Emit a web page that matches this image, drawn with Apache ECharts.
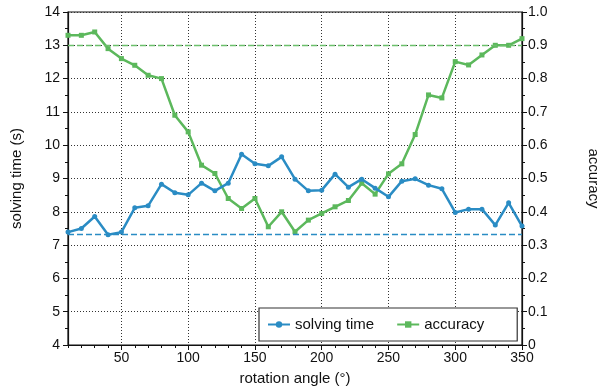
<!DOCTYPE html>
<html><head><meta charset="utf-8">
<script src="https://cdn.jsdelivr.net/npm/echarts@6/dist/echarts.min.js"></script>
<style>html,body{margin:0;padding:0;background:#fff}#c{width:605px;height:387px}</style>
</head><body><div id="c"></div>
<script>
const angles = [10,20,30,40,50,60,70,80,90,100,110,120,130,140,150,160,170,180,190,200,210,220,230,240,250,260,270,280,290,300,310,320,330,340,350];
const solvingTime = [7.39,7.50,7.86,7.31,7.39,8.12,8.18,8.83,8.57,8.51,8.86,8.63,8.86,9.73,9.44,9.38,9.65,8.98,8.63,8.65,9.13,8.74,8.98,8.71,8.45,8.92,8.99,8.80,8.69,7.98,8.08,8.08,7.60,8.27,7.57];
const accuracy = [0.93,0.93,0.94,0.89,0.86,0.84,0.81,0.80,0.69,0.64,0.54,0.515,0.44,0.41,0.44,0.355,0.40,0.34,0.375,0.395,0.415,0.434,0.486,0.453,0.514,0.544,0.632,0.751,0.742,0.851,0.841,0.871,0.90,0.90,0.92];
const timeRef = 7.34;
const accRef = 0.9;
const blue = '#2a8cc4', green = '#5cb85c';
const font = 'Liberation Sans';
const chart = echarts.init(document.getElementById('c'), null, {renderer:'canvas'});
const tick = {color:'#111', fontSize:14, fontFamily:font};
const nameTxt = {color:'#111', fontSize:15, fontFamily:font};
chart.setOption({
  animation:false,
  textStyle:{fontFamily:font},
  grid:{left:68, right:83, top:12, bottom:42, show:true, borderColor:'#111', borderWidth:1.2, containLabel:false, outerBoundsMode:'none'},
  legend:{
    left:259, top:308, padding:[8,33,8,8], itemGap:22,
    backgroundColor:'#fff', borderColor:'#333', borderWidth:1.2,
    itemWidth:22, itemHeight:8,
    textStyle:{fontSize:15, color:'#111', fontFamily:font, lineHeight:17},
    data:['solving time','accuracy']
  },
  xAxis:[{
    type:'value', min:10, max:350, splitNumber:7,
    name:'rotation angle (°)', nameLocation:'middle', nameGap:26, nameTextStyle:nameTxt,
    axisLine:{show:true, lineStyle:{color:'#111', width:1.2}},
    axisTick:{show:true, length:5, lineStyle:{color:'#111'}},
    axisLabel:Object.assign({showMinLabel:false, margin:6}, tick),
    splitLine:{show:true, lineStyle:{color:'#333', type:[1,2], width:1}}
  },{
    type:'value', min:10, max:350, interval:10, position:'bottom',
    axisLine:{show:false}, axisLabel:{show:false}, splitLine:{show:false},
    axisTick:{show:true, length:3, lineStyle:{color:'#111'}}
  }],
  yAxis:[{
    type:'value', min:4, max:14, interval:1,
    name:'solving time (s)', nameLocation:'middle', nameGap:44, nameRotate:90, nameTextStyle:nameTxt,
    axisLine:{show:true, lineStyle:{color:'#111', width:1.2}},
    axisTick:{show:true, length:5, lineStyle:{color:'#111'}},
    minorTick:{show:true, splitNumber:2, length:3, lineStyle:{color:'#111'}},
    axisLabel:Object.assign({margin:8}, tick),
    splitLine:{show:true, lineStyle:{color:'#333', type:[1,2], width:1}}
  },{
    type:'value', min:0, max:1, interval:0.1, position:'right',
    name:'accuracy', nameLocation:'middle', nameGap:64, nameRotate:-90, nameTextStyle:nameTxt,
    axisLine:{show:true, lineStyle:{color:'#111', width:1.2}},
    axisTick:{show:true, length:5, lineStyle:{color:'#111'}},
    minorTick:{show:true, splitNumber:2, length:3, lineStyle:{color:'#111'}},
    axisLabel:Object.assign({margin:6, formatter:v=> v===0?'0':v.toFixed(1)}, tick),
    splitLine:{show:false}
  }],
  series:[{
    name:'solving time', type:'line', xAxisIndex:0, yAxisIndex:0,
    data:angles.map((a,i)=>[a,solvingTime[i]]),
    color:blue, symbol:'circle', symbolSize:5, showAllSymbol:true,
    lineStyle:{width:2.5, color:blue}, itemStyle:{color:blue},
    markLine:{silent:true, symbol:'none', label:{show:false},
      lineStyle:{color:blue, type:[6,3], width:1.3}, data:[{yAxis:timeRef}]},
    z:3
  },{
    name:'accuracy', type:'line', xAxisIndex:0, yAxisIndex:1,
    data:angles.map((a,i)=>[a,accuracy[i]]),
    color:green, symbol:'rect', symbolSize:5, showAllSymbol:true,
    lineStyle:{width:2.5, color:green}, itemStyle:{color:green},
    markLine:{silent:true, symbol:'none', label:{show:false},
      lineStyle:{color:'#6cc06c', type:[6,3], width:1.3}, data:[{yAxis:accRef}]},
    z:2
  }]
});
</script></body></html>
